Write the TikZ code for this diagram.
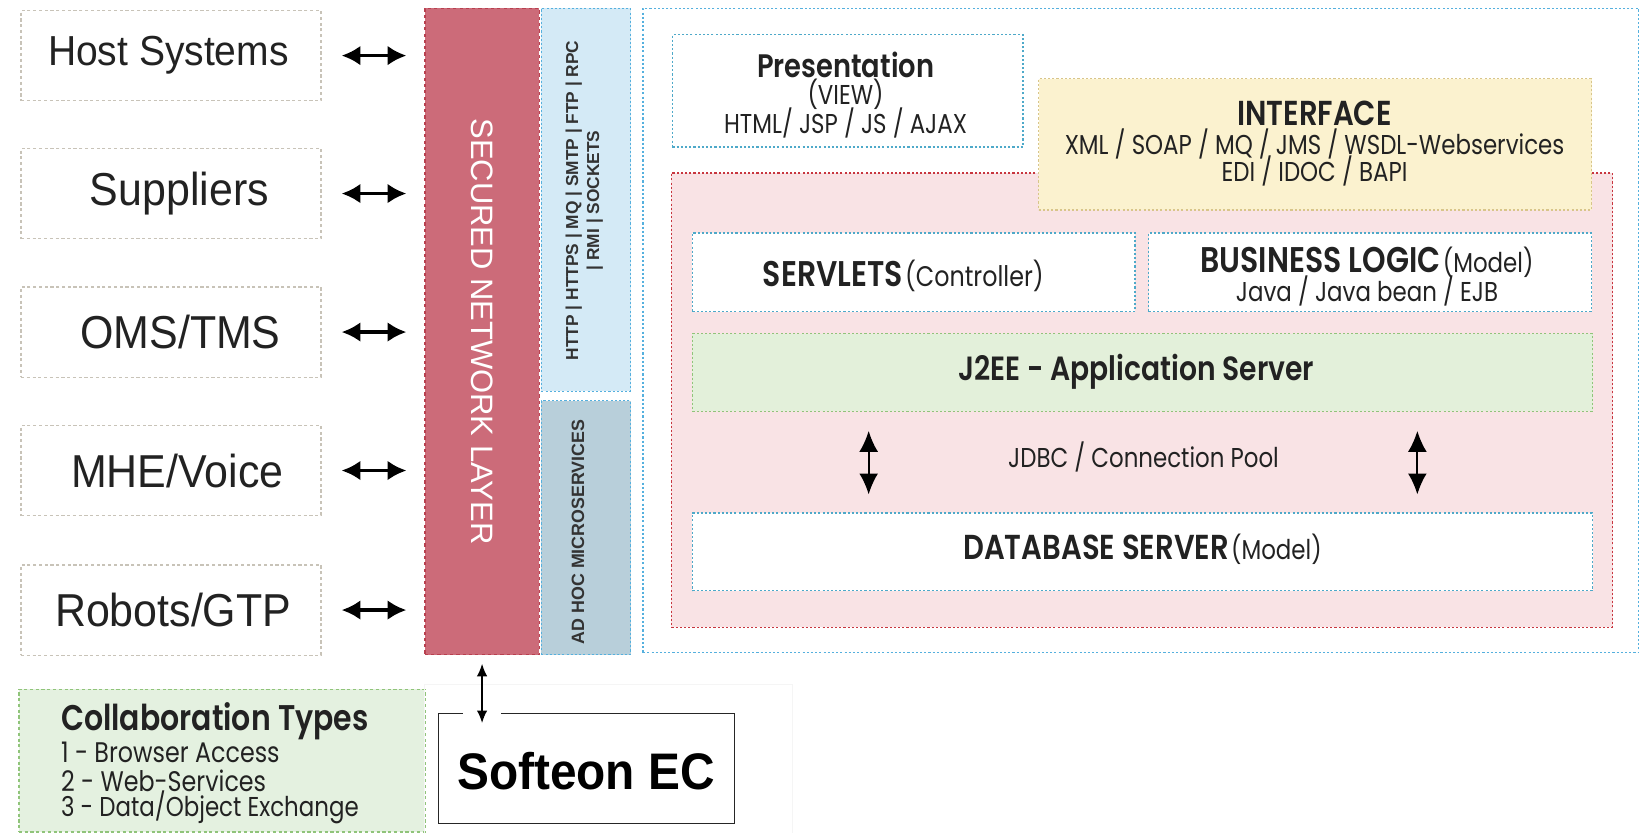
\documentclass[tikz,border=0pt]{standalone}
\usepackage{fontspec}
\setmainfont{Poppins}[FakeStretch=0.84, BoldFont={Poppins SemiBold}, BoldFeatures={FakeStretch=0.84}]
\newfontfamily\arialc{Liberation Sans}[FakeStretch=0.93]
\newfontfamily\arialn{Liberation Sans}
\usetikzlibrary{arrows.meta,calc}
\definecolor{lboxc}{RGB}{200,195,184}
\definecolor{secf}{RGB}{204,107,121}
\definecolor{secb}{RGB}{184,64,79}
\definecolor{protf}{RGB}{212,234,246}
\definecolor{blueb}{RGB}{85,176,222}
\definecolor{adhocf}{RGB}{184,207,218}
\definecolor{pinkf}{RGB}{249,227,229}
\definecolor{pinkb}{RGB}{200,54,63}
\definecolor{yelf}{RGB}{251,242,207}
\definecolor{yelb}{RGB}{216,197,138}
\definecolor{grnf}{RGB}{227,240,218}
\definecolor{grnb}{RGB}{144,196,122}
\definecolor{colf}{RGB}{228,241,224}
\definecolor{tealb}{RGB}{78,169,201}
\definecolor{txt}{RGB}{34,34,34}
\begin{document}
\begin{tikzpicture}[x=1pt,y=-1pt,
  every node/.style={inner sep=0pt, text=txt},
  lbox/.style={draw=lboxc, fill=white, dash pattern=on 3pt off 2.5pt, line width=1.2pt,
    minimum width=286, minimum height=86, font=\arialc\fontsize{44}{48}\selectfont},
  dotbox/.style={dash pattern=on 2pt off 2pt, line width=1.3pt},
  harrow/.style={{Latex[length=18pt,width=19pt]}-{Latex[length=18pt,width=19pt]}, line width=3.5pt, black},
  varrow/.style={{Latex[length=20pt,width=18pt]}-{Latex[length=20pt,width=18pt]}, line width=2pt, black},
  sarrow/.style={{Latex[length=12pt,width=10pt]}-{Latex[length=12pt,width=10pt]}, line width=1.6pt, black},
  sub/.style={font=\fontsize{26}{30}\selectfont}
]
\useasboundingbox (0,0) rectangle (1568,794);
\fill[white] (0,0) rectangle (1568,794);

% left boxes
\node[lbox, font=\arialc\fontsize{40}{44}\selectfont] (host) at (163,53) {\hspace*{-5pt}Host Systems};
\node[lbox] (supp) at (163,184.5) {\hspace*{16pt}Suppliers};
\node[lbox] (oms) at (163,316.5) {\hspace*{18pt}OMS/TMS};
\node[lbox] (mhe) at (163,448.5) {\hspace*{12pt}MHE/Voice};
\node[lbox] (robo) at (163,581.5) {\hspace*{4pt}Robots/GTP};

% secured layer
\node[draw=secb, fill=secf, dashed, line width=1.2pt, minimum width=109, minimum height=616] (sec) at (459.5,316) {};
\node[rotate=-90, text=white, font=\arialn\fontsize{29.5}{33}\selectfont] (sectext) at (sec.center) {SECURED NETWORK LAYER};

% protocol box
\node[draw=blueb, fill=protf, dotbox, minimum width=85, minimum height=365] (prot) at (558.5,190.5) {};
\node[rotate=90, align=center, text=black!80, font=\arialn\bfseries\fontsize{16.5}{20}\selectfont] (prottext) at (557,191) {HTTP | HTTPS | MQ | SMTP | FTP | RPC\\| RMI | SOCKETS};

% ad hoc box
\node[draw=blueb, fill=adhocf, dotbox, minimum width=85, minimum height=242] (adhoc) at (558.5,503) {};
\node[rotate=90, text=black!80, font=\arialn\bfseries\fontsize{17}{20}\selectfont] (adhoctext) at (551,507) {AD HOC MICROSERVICES};

% outer box
\node[draw=blueb, dotbox, fill=white, minimum width=949, minimum height=614] (outer) at (1087.5,315) {};

% presentation
\node[draw=tealb, dotbox, fill=white, minimum width=334, minimum height=107] (pres) at (808,86.5) {};
\node[font=\bfseries\fontsize{31}{34}\selectfont] (prest) at (806,62) {Presentation};
\node[sub] (presv) at (806,90) {(VIEW)};
\node[sub] (presh) at (806,117) {HTML/ JSP / JS / AJAX};

% pink
\node[draw=pinkb, fill=pinkf, dotbox, minimum width=897, minimum height=433] (pink) at (1088.5,381.5) {};

% interface
\node[draw=yelb, fill=yelf, dotbox, minimum width=527, minimum height=125] (intf) at (1253.5,137.5) {};
\node[font=\bfseries\fontsize{33}{36}\selectfont] (intft) at (1253,108) {INTERFACE};
\node[sub] (intfx) at (1253,137) {XML / SOAP / MQ / JMS / WSDL-Webservices};
\node[sub] (intfe) at (1253,163) {EDI / IDOC / BAPI};

% servlets / business
\node[draw=tealb, fill=white, dotbox, minimum width=422, minimum height=75] (serv) at (871,259.5) {};
\node (servt) at (861,263) {{\bfseries\fontsize{34}{37}\selectfont SERVLETS} {\fontsize{27}{30}\selectfont(Controller)}};
\node[draw=tealb, fill=white, dotbox, minimum width=422, minimum height=75] (bus) at (1306,259.5) {};
\node (bust) at (1303,250) {{\bfseries\fontsize{34}{37}\selectfont BUSINESS LOGIC} {\fontsize{26}{30}\selectfont(Model)}};
\node[sub] (busj) at (1303,277) {Java / Java bean / EJB};

% J2EE
\node[draw=grnb, fill=grnf, dotbox, minimum width=858, minimum height=74] (j2ee) at (1089,355) {};
\node[font=\bfseries\fontsize{32}{35}\selectfont] (j2eet) at (1083,354) {J2EE - Application Server};

% database
\node[draw=tealb, fill=white, dotbox, minimum width=858, minimum height=74] (db) at (1089,526) {};
\node (dbt) at (1089,524) {{\bfseries\fontsize{33}{36}\selectfont DATABASE SERVER} {\fontsize{26}{30}\selectfont(Model)}};

\node[sub] (jdbc) at (1090,436) {JDBC / Connection Pool};
\draw[varrow, shorten <=18pt, shorten >=17pt] ([xshift=-261pt]j2ee.south) -- ([xshift=-261pt]db.north);
\draw[varrow, shorten <=18pt, shorten >=17pt] ([xshift=262pt]j2ee.south) -- ([xshift=262pt]db.north);

% horizontal arrows
\foreach \n in {host,supp,oms,mhe,robo}{
  \draw[harrow, shorten <=19pt, shorten >=17pt] (\n.east) -- (\n.east -| sec.west);
}

% collaboration types
\node[draw=grnb, fill=colf, dash pattern=on 3pt off 2.5pt, line width=1.2pt, minimum width=387, minimum height=136] (collab) at (211.5,725) {};
\node[anchor=west, font=\bfseries\fontsize{34}{37}\selectfont] (colt) at (58,687) {Collaboration Types};
\node[anchor=west, font=\fontsize{27}{30}\selectfont] (col1) at (58,717) {1 - Browser Access};
\node[anchor=west, font=\fontsize{27}{30}\selectfont] (col2) at (58,744) {2 - Web-Services};
\node[anchor=west, font=\fontsize{26}{30}\selectfont] (col3) at (58,770) {3 - Data/Object Exchange};

% softeon
\node[draw=black!4, line width=0.8pt, minimum width=350, minimum height=142] (frame) at (580,723) {};
\node[draw=black!85, fill=white, line width=1.4pt, minimum width=282, minimum height=105] (soft) at (559,732.5) {};
\node[font=\arialc\bfseries\fontsize{49}{52}\selectfont, text=black] (softt) at (558.5,735) {Softeon EC};
\path (sec.south |- soft.north) coordinate (softtop);
\node[fill=white, minimum width=37, minimum height=5] (gap) at (softtop) {};
\draw[sarrow, shorten <=8pt] (sec.south) -- ([yshift=-10pt]softtop);
\end{tikzpicture}
\end{document}
